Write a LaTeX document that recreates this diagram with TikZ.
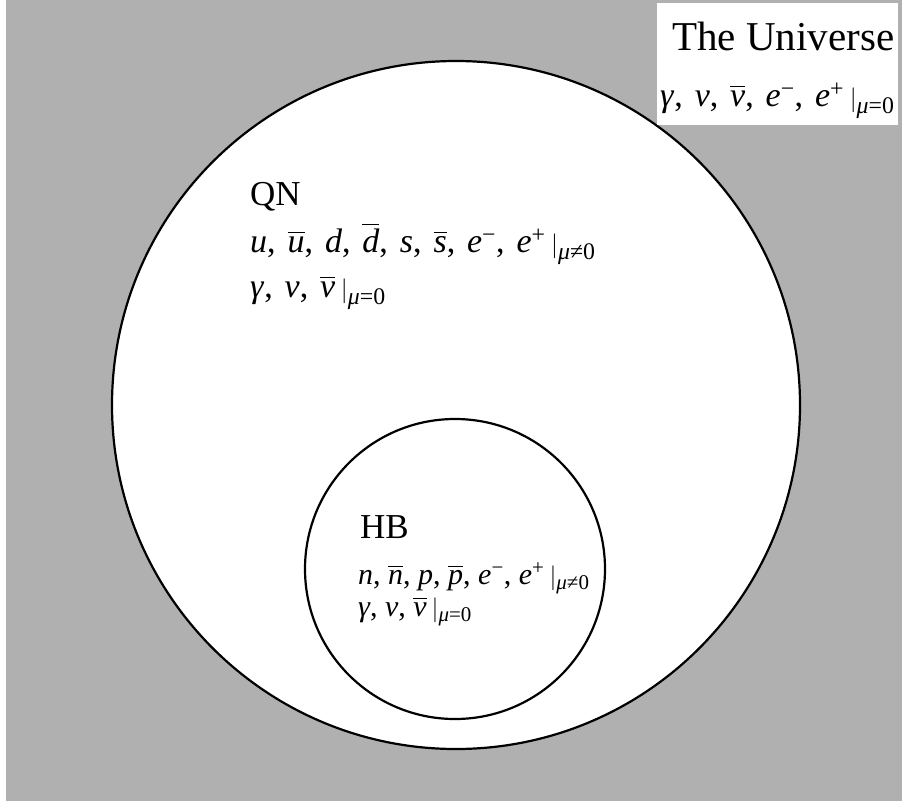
\documentclass[tikz,border=0pt]{standalone}
\usepackage{amsmath}
\usepackage{fontspec}
\setmainfont{Liberation Serif}
\definecolor{bggray}{gray}{0.69}
\newcommand\vi[1]{\textit{#1}}
\newcommand\vb[1]{$\overline{\text{\itshape #1}}$}
\newcommand\supm[1]{$^{\text{#1}}$}
\newcommand\barsub[1]{\,$|_{\text{#1}}$}
\newcommand\cs{,\hspace{0.1em} }
\newcommand\mz{\textit{μ}=0}
\newcommand\mnz{\textit{μ}≠0}
\tikzset{
  region/.style={circle, draw=black, line width=2.2pt, fill=white, inner sep=0pt},
  title/.style={anchor=base west, inner sep=0pt, font=\fontsize{35}{40}\selectfont},
  bigtitle/.style={anchor=base west, inner sep=0pt, font=\fontsize{41}{44}\selectfont},
  formula/.style={anchor=base west, inner sep=0pt, font=\fontsize{34}{40}\selectfont},
  smallformula/.style={anchor=base west, inner sep=0pt, font=\fontsize{30}{36}\selectfont},
}
\begin{document}
\begin{tikzpicture}[x=1pt,y=-1pt]
\useasboundingbox (0,0) rectangle (902,801);
\fill[white] (0,0) rectangle (902,801);
\fill[bggray] (6,0) rectangle (902,801);
\node[region, minimum size=688pt] (qn) at (456,405) {};
\node[region, minimum size=300pt] (hb) at (455,569) {};
\fill[white] (657,3) rectangle (898,125);
\node[bigtitle] (ut) at (672,50) {The Universe};
\node[formula] (uf) at (660,106) {\vi{γ}\cs \vi{ν}\cs \vb{ν}\cs \vi{e}\supm{−}\cs \vi{e}\supm{+}\barsub{\mz}};
\node[title] (qt) at (250,205) {QN};
\node[formula] (qf1) at (250,252) {\vi{u}\cs \vb{u}\cs \vi{d}\cs \vb{d}\cs \vi{s}\cs \vb{s}\cs \vi{e}\supm{−}\cs \vi{e}\supm{+}\barsub{\mnz}};
\node[formula] (qf2) at (250,297) {\vi{γ}\cs \vi{ν}\cs \vb{ν}\barsub{\mz}};
\node[title] (ht) at (360,538) {HB};
\node[smallformula] (hf1) at (358,584) {\vi{n}, \vb{n}, \vi{p}, \vb{p}, \vi{e}\supm{−}, \vi{e}\supm{+}\barsub{\mnz}};
\node[smallformula] (hf2) at (358,616) {\vi{γ}, \vi{ν}, \vb{ν}\barsub{\mz}};
\end{tikzpicture}
\end{document}
